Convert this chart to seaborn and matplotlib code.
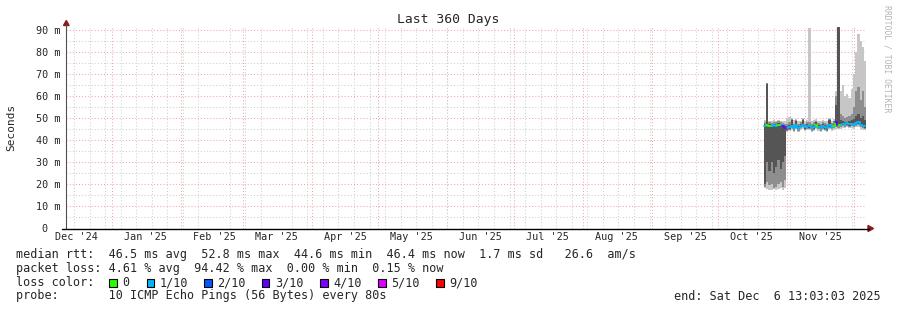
import numpy as np
import pandas as pd
import matplotlib
matplotlib.use("Agg")
import matplotlib.pyplot as plt
import matplotlib.dates as mdates
from matplotlib.ticker import MultipleLocator, FuncFormatter
from matplotlib.patches import Rectangle, Polygon
from matplotlib.lines import Line2D
import seaborn as sns

# ---------------- data ----------------
first_sample = "2025-10-21 12:00"
graph_start = "2024-12-11 13:03:03"
graph_end = "2025-12-06 13:03:03"

median = [46.5, 46.8, 46.2, 46.3, 46.8, 46.5, 47.0, 46.7, 46.2, 45.5,
          45.3, 45.8, 46.5, 45.5, 46.8, 45.5, 46.5, 47.0, 45.8, 46.4,
          46.2, 45.5, 45.8, 46.8, 46.0, 45.4, 46.3, 45.8, 45.3, 46.8,
          46.0, 46.5, 48.0, 47.0,
          47.0, 47.5, 47.3, 47.6, 47.2, 47.5, 47.0, 47.8, 48.0, 47.0, 46.5, 46.3]

loss = [1, 0, 0, 1, 1, 1, 0, 1, 3, 4,
        1, 1, 1, 1, 1, 1, 1, 1, 1, 1,
        1, 1, 1, 0, 1, 1, 1, 1, 1, 1,
        1, 0, 3, 0,
        1, 1, 1, 1, 1, 1, 1, 1, 1, 1, 1, 1]

hi1 = [47.5, 65.5, 47.2, 47.0, 47.5, 47.2, 47.8, 47.5, 47.0, 46.5,
       46.2, 47.0, 49.0, 46.5, 48.5, 46.5, 47.5, 49.0, 46.8, 47.5,
       47.0, 46.5, 47.0, 48.0, 47.0, 46.5, 47.5, 47.0, 46.5, 49.0,
       47.0, 47.5, 56.0, 92.0,
       49.0, 48.5, 48.0, 48.3, 48.5, 49.0, 49.5, 51.0, 52.0, 50.0, 51.0, 49.0]
hi2 = [48.0, 65.7, 48.0, 47.8, 48.2, 48.0, 48.5, 48.0, 47.8, 47.5,
       47.5, 48.0, 49.5, 47.5, 49.0, 47.5, 48.0, 49.5, 47.5, 48.0,
       48.0, 47.5, 48.0, 48.5, 47.8, 47.5, 48.0, 47.8, 47.5, 49.5,
       47.8, 48.5, 60.0, 92.0,
       52.0, 51.0, 50.0, 50.5, 51.0, 52.0, 55.0, 62.0, 64.0, 58.0, 62.0, 55.0]
hi3 = [49.0, 65.7, 48.5, 48.5, 49.0, 48.5, 49.0, 48.5, 48.5, 48.5,
       50.0, 50.5, 50.0, 49.0, 49.5, 48.5, 48.5, 50.0, 48.5, 49.0,
       90.5, 48.5, 49.0, 49.5, 48.5, 48.5, 49.0, 48.5, 48.5, 50.0,
       48.5, 49.5, 62.0, 92.0,
       62.0, 65.0, 60.0, 61.0, 59.0, 63.0, 70.0, 80.0, 88.0, 85.0, 82.0, 76.0]
lo1 = [20.0, 30.0, 26.0, 30.0, 25.0, 28.0, 31.0, 27.0, 30.0, 33.0,
       44.7, 45.2, 45.8, 44.9, 46.1, 44.9, 45.8, 46.3, 45.2, 45.8,
       45.6, 44.9, 45.2, 46.1, 45.4, 44.8, 45.6, 45.2, 44.7, 46.0,
       45.4, 45.9, 46.5, 46.2,
       46.4, 46.9, 46.7, 47.0, 46.6, 46.9, 46.4, 47.1, 47.3, 46.4, 45.9, 45.7]
lo2 = [19.0, 21.0, 19.5, 20.0, 18.5, 19.0, 20.0, 21.0, 19.0, 22.0,
       44.1, 44.6, 45.3, 44.3, 45.6, 44.3, 45.3, 45.8, 44.6, 45.2,
       45.0, 44.3, 44.6, 45.6, 44.8, 44.2, 45.1, 44.6, 44.1, 45.5,
       44.8, 45.3, 45.8, 45.6,
       45.8, 46.3, 46.1, 46.4, 46.0, 46.3, 45.8, 46.5, 46.7, 45.8, 45.3, 45.1]
lo3 = [18.5, 18.0, 17.5, 17.5, 17.8, 17.5, 18.0, 18.5, 17.5, 18.5,
       43.5, 44.0, 44.7, 43.7, 45.0, 43.7, 44.7, 45.2, 44.0, 44.6,
       44.4, 43.7, 44.0, 45.0, 44.2, 43.6, 44.5, 44.0, 43.5, 44.9,
       44.2, 44.7, 45.0, 45.0,
       45.2, 45.7, 45.5, 45.8, 45.4, 45.7, 45.2, 45.9, 46.1, 45.2, 44.7, 44.5]

loss_levels = [0, 1, 2, 3, 4, 5, 9]
loss_labels = ["0", "1/10", "2/10", "3/10", "4/10", "5/10", "9/10"]
loss_hex = ["#26ff00", "#00b8ff", "#0059ff", "#5e00ff", "#7e00ff", "#dd00ff", "#ff0000"]

rtt_avg, rtt_max, rtt_min, rtt_now, rtt_sd, rtt_ams = 46.5, 52.8, 44.6, 46.4, 1.7, 26.6
pl_avg, pl_max, pl_min, pl_now = 4.61, 94.42, 0.00, 0.15
probe_text = "10 ICMP Echo Pings (56 Bytes) every 80s"
end_text = "end: Sat Dec  6 13:03:03 2025"
title = "Last 360 Days"

# ---------------- style / layout ----------------
sns.set_style("white")
plt.rcParams['font.family'] = ['DejaVu Sans Mono', 'DejaVu Sans']

W, H = 897, 310
fig = plt.figure(figsize=(W / 100, H / 100), dpi=100)
fig.patch.set_facecolor("white")


def fx(x):
    return x / W


def fy(y):
    return 1 - y / H


L, R, T, B = 66.3, 866.3, 26.5, 228.5
ax = fig.add_axes([fx(L), fy(B), (R - L) / W, (B - T) / H])
ax.set_facecolor("white")

t0 = pd.Timestamp(graph_start)
t1 = pd.Timestamp(graph_end)
days = pd.date_range(first_sample, periods=len(median), freq="D")
edges = list(days) + [t1]

ax.set_xlim(t0, t1)
ax.set_ylim(0, 91.4)

# grid
grey = "#cfcfcf"
red = "#f2a6a6"
dots = (0, (1, 2))
ax.yaxis.set_major_locator(MultipleLocator(10))
ax.yaxis.set_minor_locator(MultipleLocator(5))
ax.yaxis.set_major_formatter(FuncFormatter(lambda v, p: f"{int(round(v))} m" if v > 0 else "0  "))
ax.xaxis.set_major_locator(mdates.MonthLocator(bymonthday=16))
ax.xaxis.set_major_formatter(mdates.DateFormatter("%b '%y"))
ax.xaxis.set_minor_locator(mdates.WeekdayLocator(byweekday=mdates.SU))

ax.grid(which="minor", axis="y", color=grey, ls=dots, lw=0.75, zorder=0)
ax.grid(which="major", axis="y", color=red, ls=dots, lw=0.75, zorder=0)
ax.grid(which="minor", axis="x", color=grey, ls=dots, lw=0.75, zorder=0)
ax.grid(which="major", axis="x", visible=False)
for m in mdates.MonthLocator(bymonthday=1).tick_values(t0.to_pydatetime(), t1.to_pydatetime()):
    ax.axvline(m, color=red, ls=dots, lw=0.75, zorder=0.5)
ax.set_axisbelow(True)

ax.tick_params(axis="both", which="both", length=0)
ax.tick_params(axis="x", which="major", pad=2.5, labelsize=7.3)
ax.tick_params(axis="y", which="major", pad=4.5, labelsize=7.3)
for s in ax.spines.values():
    s.set_visible(False)

# smoke
def step(vals):
    return list(vals) + [vals[-1]]

ax.fill_between(edges, step(lo3), step(hi3), step="post", color="#c6c6c6", lw=0, zorder=2)
ax.fill_between(edges, step(lo2), step(hi2), step="post", color="#8e8e8e", lw=0, zorder=3)
ax.fill_between(edges, step(lo1), step(hi1), step="post", color="#555555", lw=0, zorder=4)

# median line coloured by loss
lab_of = dict(zip(loss_levels, loss_labels))
rows = []
run = 0
n = len(median)
for i in range(n):
    if i > 0 and loss[i] != loss[i - 1]:
        run += 1
    lab = lab_of[loss[i]]
    rows.append((edges[i], median[i], lab, run))
    if i == n - 1:
        rows.append((edges[n], median[i], lab, run))
    elif loss[i + 1] != loss[i]:
        rows.append((edges[i + 1], median[i + 1], lab, run))
df = pd.DataFrame(rows, columns=["t", "ms", "loss", "run"])
palette = dict(zip(loss_labels, loss_hex))
sns.lineplot(data=df, x="t", y="ms", hue="loss", units="run", estimator=None,
             palette=palette, drawstyle="steps-post", lw=1.3, legend=False,
             sort=False, ax=ax, zorder=5)
ax.set_xlabel("")
ax.set_ylabel("")

# axes lines and arrows
fig.add_artist(Line2D([fx(L), fx(L)], [fy(B), fy(24)], color="#505050", lw=0.8, transform=fig.transFigure))
fig.add_artist(Line2D([fx(62), fx(869)], [fy(B), fy(B)], color="black", lw=1.0, transform=fig.transFigure))
arrow_c = "#8b1a1a"
fig.add_artist(Polygon([(fx(L - 2.8), fy(25.5)), (fx(L + 2.8), fy(25.5)), (fx(L), fy(20.5))],
                       closed=True, color=arrow_c, transform=fig.transFigure))
fig.add_artist(Polygon([(fx(868), fy(B - 3)), (fx(868), fy(B + 3)), (fx(873.5), fy(B))],
                       closed=True, color=arrow_c, transform=fig.transFigure))

# texts
fig.text(fx(448), fy(19.5), title, ha="center", va="center", fontsize=9.4)
fig.text(fx(11), fy(127), "Seconds", ha="center", va="center", rotation=90, fontsize=8)
fig.text(fx(886.5), fy(59), "RRDTOOL / TOBI OETIKER", ha="center", va="center",
         rotation=-90, fontsize=5.9, color="#b4b4b4")

fs = 8.5
line1 = (f"median rtt:  {rtt_avg:.1f} ms avg  {rtt_max:.1f} ms max  {rtt_min:.1f} ms min  "
         f"{rtt_now:.1f} ms now  {rtt_sd:.1f} ms sd   {rtt_ams:.1f}  am/s")
line2 = (f"packet loss: {pl_avg:.2f} % avg  {pl_max:.2f} % max  {pl_min:.2f} % min  "
         f"{pl_now:.2f} % now")
fig.text(fx(16), fy(254.5), line1, ha="left", va="center", fontsize=fs)
fig.text(fx(16), fy(268.5), line2, ha="left", va="center", fontsize=fs)
fig.text(fx(16), fy(282.5), "loss color:", ha="left", va="center", fontsize=fs)
swatch_x = [109, 146.7, 204, 261.7, 320, 378, 436]
for sx, lab, col in zip(swatch_x, loss_labels, loss_hex):
    fig.add_artist(Rectangle((fx(sx), fy(286.5)), 7.5 / W, 7.5 / H, facecolor=col,
                             edgecolor="black", lw=0.8, transform=fig.transFigure))
    fig.text(fx(sx + 13), fy(282.5), lab, ha="left", va="center", fontsize=fs)
fig.text(fx(16), fy(296), "probe:       " + probe_text, ha="left", va="center", fontsize=fs)
fig.text(fx(881), fy(296), end_text, ha="right", va="center", fontsize=fs)

fig.savefig("out.png", dpi=100, facecolor="white")
